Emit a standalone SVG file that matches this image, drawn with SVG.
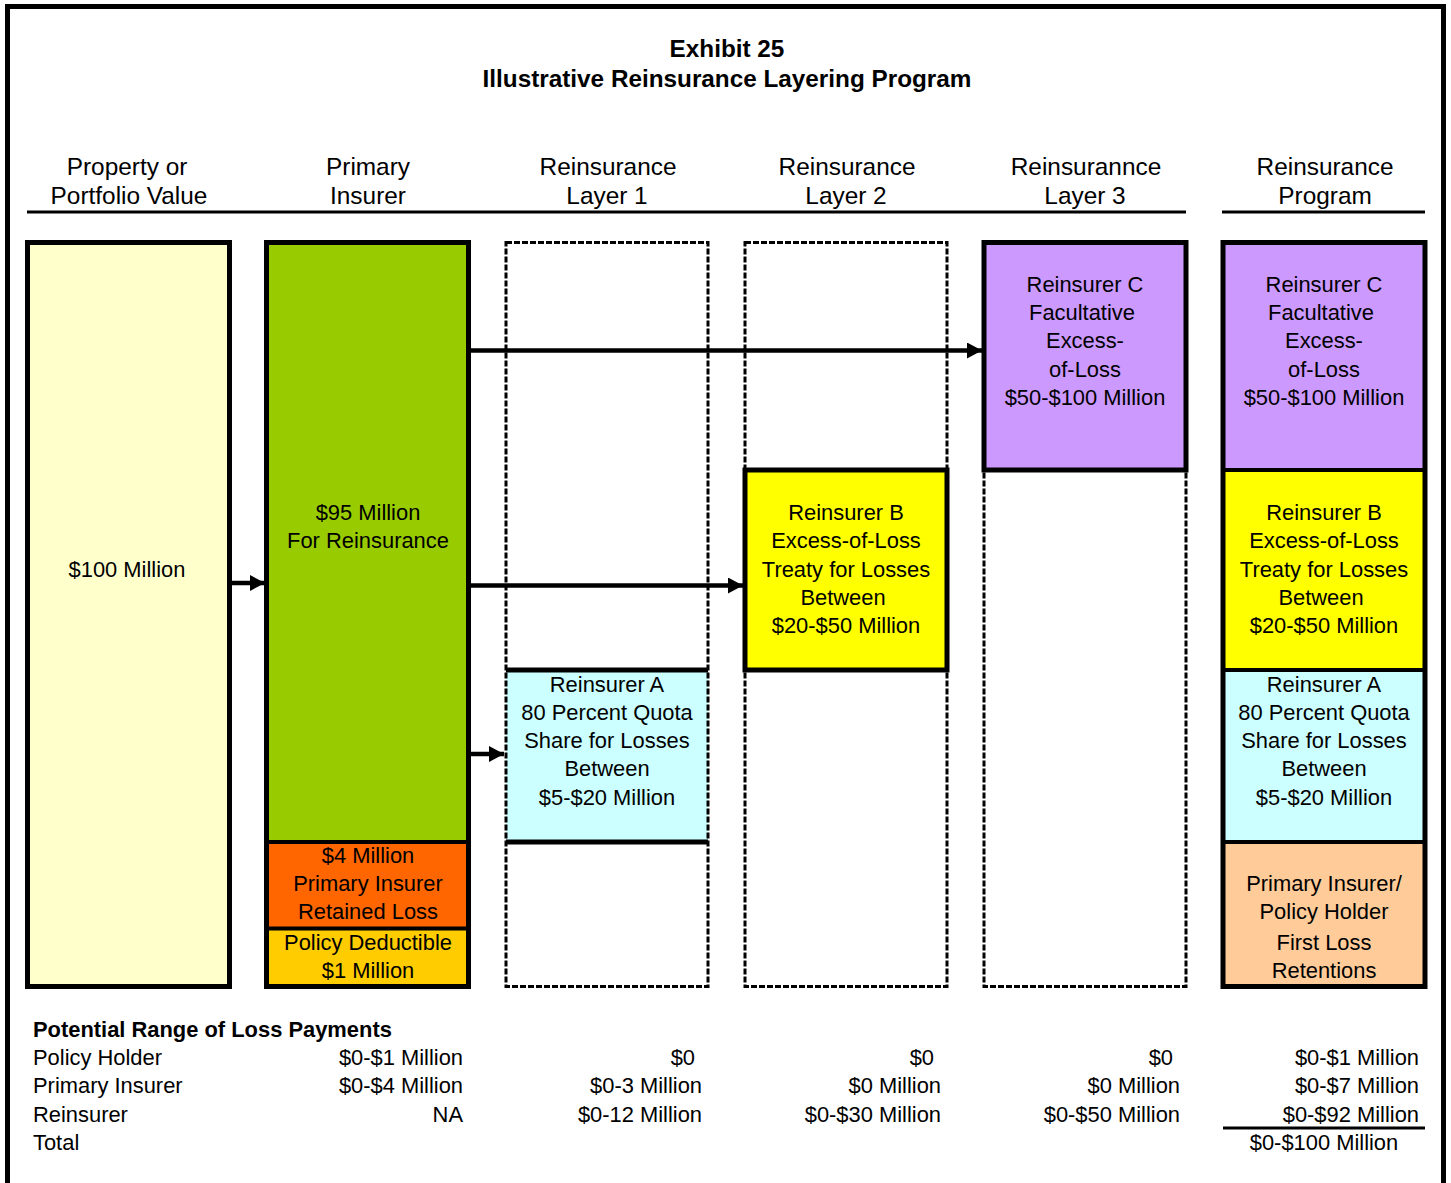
<svg xmlns="http://www.w3.org/2000/svg" width="1451" height="1183" viewBox="0 0 1451 1183">
<style>
text{font-family:"Liberation Sans",Arial,sans-serif;fill:#000}
.t{font-size:24.3px;font-weight:bold;text-anchor:middle}
.h{font-size:24.4px;text-anchor:middle}
.b{font-size:21.9px;text-anchor:middle}
.r{font-size:21.9px;text-anchor:end}
.l{font-size:21.9px}
.solid{stroke:#000;stroke-width:5;fill:none}
.dash{stroke:#000;stroke-width:3;fill:none;stroke-dasharray:6 2}
.div{stroke:#000;stroke-width:4}
.conn{stroke:#000;stroke-width:4.5;fill:none}
</style>
<defs>
<marker id="ah" markerWidth="15" markerHeight="16" refX="15" refY="8" orient="auto" markerUnits="userSpaceOnUse">
<path d="M0,0 L15,8 L0,16 Z" fill="#000"/>
</marker>
</defs>
<rect width="1451" height="1183" fill="#fff"/>
<path d="M7.5,1183 V6.5 H1443.5 V1183" fill="none" stroke="#000" stroke-width="5"/>

<g id="title">
<text class="t" x="727" y="57">Exhibit 25</text>
<text class="t" x="727" y="87">Illustrative Reinsurance Layering Program</text>
</g>

<g id="headers">
<text class="h" x="127" y="175">Property or</text>
<text class="h" x="129" y="204">Portfolio Value</text>
<text class="h" x="368" y="175">Primary</text>
<text class="h" x="368" y="204">Insurer</text>
<text class="h" x="608" y="175">Reinsurance</text>
<text class="h" x="607" y="204">Layer 1</text>
<text class="h" x="847" y="175">Reinsurance</text>
<text class="h" x="846" y="204">Layer 2</text>
<text class="h" x="1086" y="175">Reinsurannce</text>
<text class="h" x="1085" y="204">Layer 3</text>
<text class="h" x="1325" y="175">Reinsurance</text>
<text class="h" x="1325" y="204">Program</text>
<line x1="27" y1="212" x2="1186" y2="212" stroke="#000" stroke-width="3"/>
<line x1="1222" y1="212" x2="1425" y2="212" stroke="#000" stroke-width="3"/>
</g>

<g id="property-value">
<rect x="27.5" y="242.5" width="202" height="744" class="solid" style="fill:#FFFFCC"/>
<text class="b" x="127" y="577">$100 Million</text>
</g>

<g id="primary-insurer">
<rect x="266.5" y="242.5" width="202" height="600" fill="#99CC00"/>
<rect x="266.5" y="842" width="202" height="86.5" fill="#FF6600"/>
<rect x="266.5" y="928.5" width="202" height="58" fill="#FFCC00"/>
<line class="div" x1="266.5" y1="842" x2="468.5" y2="842"/>
<line class="div" x1="266.5" y1="928.5" x2="468.5" y2="928.5"/>
<rect class="solid" x="266.5" y="242.5" width="202" height="744"/>
<text class="b" x="368" y="520">$95 Million</text>
<text class="b" x="368" y="548">For Reinsurance</text>
<text class="b" x="368" y="863">$4 Million</text>
<text class="b" x="368" y="891">Primary Insurer</text>
<text class="b" x="368" y="919">Retained Loss</text>
<text class="b" x="368" y="950">Policy Deductible</text>
<text class="b" x="368" y="978">$1 Million</text>
</g>

<g id="layer1">
<rect x="506" y="670" width="202" height="172" fill="#CCFFFF"/>
<rect class="dash" x="506" y="242.5" width="202" height="744"/>
<line class="div" x1="506" y1="670" x2="708" y2="670" style="stroke-width:5"/>
<line class="div" x1="506" y1="842" x2="708" y2="842" style="stroke-width:5"/>
<text class="b" x="607" y="692">Reinsurer A</text>
<text class="b" x="607" y="720">80 Percent Quota</text>
<text class="b" x="607" y="748">Share for Losses</text>
<text class="b" x="607" y="776">Between</text>
<text class="b" x="607" y="805">$5-$20 Million</text>
</g>

<g id="layer2">
<rect class="dash" x="745" y="242.5" width="202" height="744"/>
<rect x="745" y="470" width="202" height="200" class="solid" style="fill:#FFFF00"/>
<text class="b" x="846" y="520">Reinsurer B</text>
<text class="b" x="846" y="548">Excess-of-Loss</text>
<text class="b" x="846" y="577">Treaty for Losses</text>
<text class="b" x="843" y="605">Between</text>
<text class="b" x="846" y="633">$20-$50 Million</text>
</g>

<g id="layer3">
<rect class="dash" x="984" y="242.5" width="202" height="744"/>
<rect x="984" y="242.5" width="202" height="227.5" class="solid" style="fill:#CC99FF"/>
<text class="b" x="1085" y="292">Reinsurer C</text>
<text class="b" x="1082" y="320">Facultative</text>
<text class="b" x="1085" y="348">Excess-</text>
<text class="b" x="1085" y="377">of-Loss</text>
<text class="b" x="1085" y="405">$50-$100 Million</text>
</g>

<g id="program">
<rect x="1223" y="242.5" width="202" height="227.5" fill="#CC99FF"/>
<rect x="1223" y="470" width="202" height="200" fill="#FFFF00"/>
<rect x="1223" y="670" width="202" height="172" fill="#CCFFFF"/>
<rect x="1223" y="842" width="202" height="144.5" fill="#FFCC99"/>
<line class="div" x1="1223" y1="470" x2="1425" y2="470"/>
<line class="div" x1="1223" y1="670" x2="1425" y2="670"/>
<line class="div" x1="1223" y1="842" x2="1425" y2="842"/>
<rect class="solid" x="1223" y="242.5" width="202" height="744"/>
<text class="b" x="1324" y="292">Reinsurer C</text>
<text class="b" x="1321" y="320">Facultative</text>
<text class="b" x="1324" y="348">Excess-</text>
<text class="b" x="1324" y="377">of-Loss</text>
<text class="b" x="1324" y="405">$50-$100 Million</text>
<text class="b" x="1324" y="520">Reinsurer B</text>
<text class="b" x="1324" y="548">Excess-of-Loss</text>
<text class="b" x="1324" y="577">Treaty for Losses</text>
<text class="b" x="1321" y="605">Between</text>
<text class="b" x="1324" y="633">$20-$50 Million</text>
<text class="b" x="1324" y="692">Reinsurer A</text>
<text class="b" x="1324" y="720">80 Percent Quota</text>
<text class="b" x="1324" y="748">Share for Losses</text>
<text class="b" x="1324" y="776">Between</text>
<text class="b" x="1324" y="805">$5-$20 Million</text>
<text class="b" x="1324" y="891">Primary Insurer/</text>
<text class="b" x="1324" y="919">Policy Holder</text>
<text class="b" x="1324" y="950">First Loss</text>
<text class="b" x="1324" y="978">Retentions</text>
</g>

<g id="connectors">
<line class="conn" x1="231" y1="583" x2="265" y2="583" marker-end="url(#ah)"/>
<line class="conn" x1="470" y1="350.5" x2="982" y2="350.5" marker-end="url(#ah)"/>
<line class="conn" x1="470" y1="585.5" x2="743" y2="585.5" marker-end="url(#ah)"/>
<line class="conn" x1="470" y1="754" x2="504" y2="754" marker-end="url(#ah)"/>
</g>

<g id="loss-table">
<text class="l" x="33" y="1037" font-weight="bold">Potential Range of Loss Payments</text>
<text class="l" x="33" y="1065">Policy Holder</text>
<text class="l" x="33" y="1093">Primary Insurer</text>
<text class="l" x="33" y="1122">Reinsurer</text>
<text class="l" x="33" y="1150">Total</text>
<text class="r" x="463" y="1065">$0-$1 Million</text>
<text class="r" x="463" y="1093">$0-$4 Million</text>
<text class="r" x="463" y="1122">NA</text>
<text class="r" x="695" y="1065">$0</text>
<text class="r" x="702" y="1093">$0-3 Million</text>
<text class="r" x="702" y="1122">$0-12 Million</text>
<text class="r" x="934" y="1065">$0</text>
<text class="r" x="941" y="1093">$0 Million</text>
<text class="r" x="941" y="1122">$0-$30 Million</text>
<text class="r" x="1173" y="1065">$0</text>
<text class="r" x="1180" y="1093">$0 Million</text>
<text class="r" x="1180" y="1122">$0-$50 Million</text>
<text class="r" x="1419" y="1065">$0-$1 Million</text>
<text class="r" x="1419" y="1093">$0-$7 Million</text>
<text class="r" x="1419" y="1122">$0-$92 Million</text>
<line x1="1223" y1="1128" x2="1425" y2="1128" stroke="#000" stroke-width="3"/>
<text class="b" x="1324" y="1150">$0-$100 Million</text>
</g>
</svg>
